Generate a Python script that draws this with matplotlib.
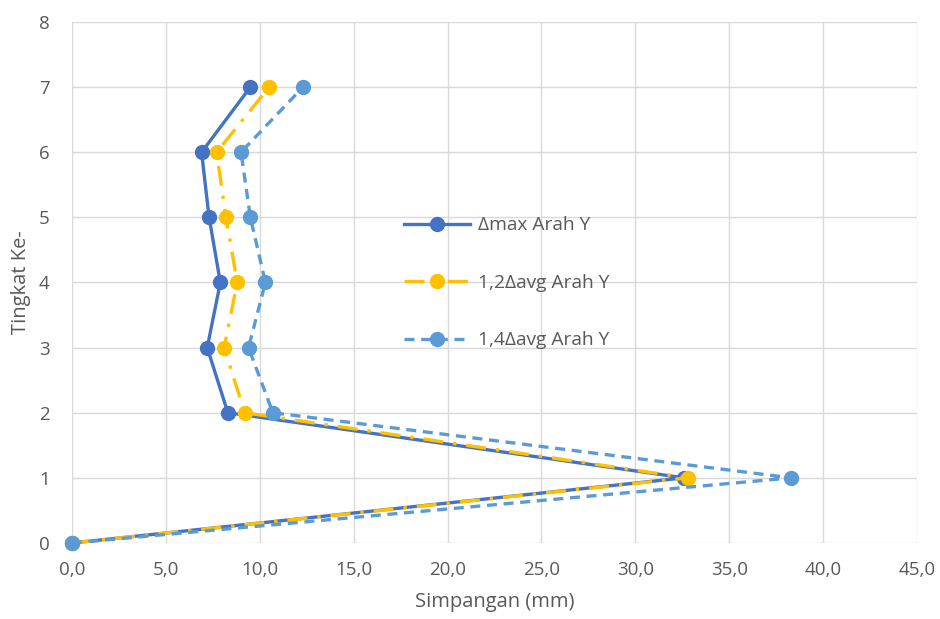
import matplotlib.pyplot as plt

plt.rcParams['font.family'] = ['Open Sans', 'DejaVu Sans']

# Data
tingkat = [0, 1, 2, 3, 4, 5, 6, 7]
dmax_y = [0.0, 32.6, 8.3, 7.2, 7.9, 7.3, 6.9, 9.5]
avg12_y = [0.0, 32.8, 9.2, 8.1, 8.8, 8.2, 7.7, 10.5]
avg14_y = [0.0, 38.3, 10.7, 9.4, 10.3, 9.5, 9.0, 12.3]

labels = ['\u0394max Arah Y', '1,2\u0394avg Arah Y', '1,4\u0394avg Arah Y']
colors = ['#4472C4', '#FFC000', '#5B9BD5']

fig = plt.figure(figsize=(9.4, 6.19), dpi=100)
ax = fig.add_axes([0.0766, 0.1228, 0.8989, 0.8417])

ax.plot(dmax_y, tingkat, color=colors[0], lw=2.4, marker='o', ms=10,
        label=labels[0], zorder=3, clip_on=False)
ax.plot(avg12_y, tingkat, color=colors[1], lw=2.4, marker='o', ms=10,
        dashes=(6, 3, 1, 3), label=labels[1], zorder=4, clip_on=False)
ax.plot(avg14_y, tingkat, color=colors[2], lw=2.4, marker='o', ms=10,
        dashes=(3, 2), label=labels[2], zorder=5, clip_on=False)

ax.set_xlim(0, 45)
ax.set_ylim(0, 8)
ax.set_xticks(range(0, 46, 5))
ax.set_xticklabels([f'{v:.1f}'.replace('.', ',') for v in range(0, 46, 5)])
ax.set_yticks(range(0, 9))

ax.grid(True, color='#D9D9D9', lw=1)
ax.set_axisbelow(True)
for s in ax.spines.values():
    s.set_visible(False)
ax.tick_params(length=0, labelsize=13.5, colors='#595959')
ax.tick_params(axis='x', pad=13)
ax.tick_params(axis='y', pad=16)

ax.set_xlabel('Simpangan (mm)', fontsize=14.5, color='#595959', labelpad=9)
ax.set_ylabel('Tingkat Ke-', fontsize=14.5, color='#595959', labelpad=6)

ax.legend(loc='upper left', bbox_to_anchor=(0.373, 0.66), frameon=False,
          fontsize=13.8, labelcolor='#595959', labelspacing=2.06,
          handlelength=3.4, handletextpad=0.45)

fig.savefig('out.png', dpi=100)
